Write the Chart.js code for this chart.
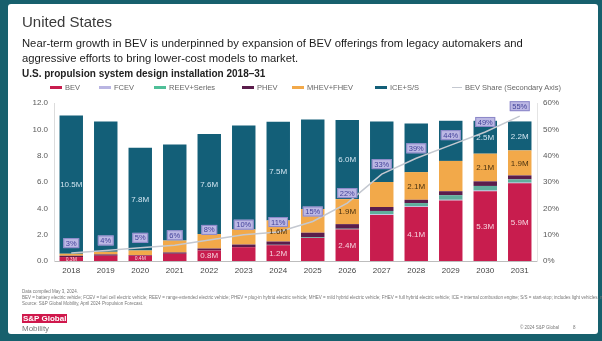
<!DOCTYPE html>
<html>
<head>
<meta charset="utf-8">
<script src="https://cdn.jsdelivr.net/npm/chart.js@4.4.1/dist/chart.umd.min.js"></script>
<style>
  html, body { margin: 0; padding: 0; }
  body {
    width: 602px; height: 341px; position: relative; overflow: hidden;
    background: #17606d;
    font-family: 'Liberation Sans', Arial, sans-serif;
  }
  #slide { position: absolute; left: 8px; top: 4px; width: 590px; height: 330px; background: #fff; border-radius: 3px; }
  #chart { position: absolute; left: 0; top: 0; }
  .t { position: absolute; white-space: nowrap; }
  .h1 { left: 22px; top: 13px; font-size: 15px; color: #3a3a3a; }
  .sub { left: 22px; top: 36px; font-size: 11.25px; line-height: 15px; color: #1c1c1c; }
  .ct { left: 22px; top: 68px; font-size: 10px; font-weight: bold; color: #222; }
  .lg { top: 83px; font-size: 7.5px; color: #666; display: flex; align-items: center; }
  .sw { display: inline-block; width: 12px; height: 3px; margin-right: 3px; }
  .fn { left: 22px; font-size: 4.5px; color: #777; }
  .logo { left: 22px; top: 314px; font-size: 8px; font-weight: bold; color: #fff; background: #d0184c; padding: 0 1px; }
  .mob { left: 22px; top: 324px; font-size: 8px; color: #777; }
  .copy { top: 325px; font-size: 4.5px; color: #777; }
</style>
</head>
<body>
<div id="slide"></div>
<canvas id="chart" width="602" height="341"></canvas>

<div class="t h1">United States</div>
<div class="t sub">Near-term growth in BEV is underpinned by expansion of BEV offerings from legacy automakers and<br>aggressive efforts to bring lower-cost models to market.</div>
<div class="t ct">U.S. propulsion system design installation 2018–31</div>

<div class="t lg" style="left:50px"><span class="sw" style="background:#c81d4e"></span>BEV</div>
<div class="t lg" style="left:99px"><span class="sw" style="background:#b9b5e2"></span>FCEV</div>
<div class="t lg" style="left:154px"><span class="sw" style="background:#4fbf98"></span>REEV+Series</div>
<div class="t lg" style="left:242px"><span class="sw" style="background:#5b1d4c"></span>PHEV</div>
<div class="t lg" style="left:292px"><span class="sw" style="background:#f2a94a"></span>MHEV+FHEV</div>
<div class="t lg" style="left:375px"><span class="sw" style="background:#135f78"></span>ICE+S/S</div>
<div class="t lg" style="left:452px"><span class="sw" style="background:#c4c8d0;height:1px;width:10px"></span>BEV Share (Secondary Axis)</div>

<div class="t fn" style="top:289px">Data compiled May 3, 2024.</div>
<div class="t fn" style="top:295px">BEV = battery electric vehicle; FCEV = fuel cell electric vehicle; REEV = range-extended electric vehicle; PHEV = plug-in hybrid electric vehicle; MHEV = mild hybrid electric vehicle; FHEV = full hybrid electric vehicle; ICE = internal combustion engine; S/S = start-stop; includes light vehicles, not yet adjusted.</div>
<div class="t fn" style="top:301px">Source: S&amp;P Global Mobility, April 2024 Propulsion Forecast.</div>

<div class="t logo">S&amp;P Global</div>
<div class="t mob">Mobility</div>
<div class="t copy" style="left:520px">© 2024 S&amp;P Global</div>
<div class="t copy" style="left:573px">8</div>

<script>
// propulsion mix, millions of units
const years = ['2018', '2019', '2020', '2021', '2022', '2023', '2024', '2025', '2026', '2027', '2028', '2029', '2030', '2031'];
const bev  = [0.3, 0.4, 0.4, 0.55, 0.8, 1.05, 1.2, 1.75, 2.4, 3.5, 4.1, 4.6, 5.3, 5.9];
const fcev = [0, 0, 0, 0, 0, 0, 0, 0, 0, 0.05, 0.05, 0.05, 0.05, 0.05];
const reev = [0, 0, 0, 0, 0, 0, 0.03, 0.05, 0.05, 0.25, 0.25, 0.35, 0.35, 0.25];
const phev = [0.1, 0.1, 0.05, 0.1, 0.15, 0.2, 0.25, 0.35, 0.35, 0.3, 0.25, 0.3, 0.35, 0.3];
const mhev = [0.15, 0.2, 0.35, 0.9, 1.1, 1.15, 1.6, 1.8, 1.9, 1.9, 2.1, 2.3, 2.1, 1.9];
const ice  = [10.5, 9.9, 7.8, 7.3, 7.6, 7.9, 7.5, 6.8, 6.0, 4.6, 3.7, 3.05, 2.5, 2.2];
// BEV share of total, %
const bevShare = [3, 4, 5, 6, 8, 10, 11, 15, 22, 33, 39, 44, 49, 55];

// years whose segments carry a value label
const bevLabelYears  = ['2018', '2020', '2022', '2024', '2026', '2028', '2030', '2031'];
const mhevLabelYears = ['2024', '2026', '2028', '2030', '2031'];
const iceLabelYears  = ['2018', '2020', '2022', '2024', '2026', '2028', '2030', '2031'];

const yTicks  = [0, 2, 4, 6, 8, 10, 12];
const y2Ticks = [0, 10, 20, 30, 40, 50, 60];

const FONT = "'Liberation Sans', Arial, sans-serif";
Chart.defaults.font.family = FONT;
Chart.defaults.font.size = 8;

function bar(label, data, color, labelYears, textColor) {
  return {
    type: 'bar', label, data,
    backgroundColor: color,
    yAxisID: 'y', stack: 's', order: 1,
    categoryPercentage: 1, barPercentage: 0.68,
    labelYears: labelYears || [], textColor: textColor || '#fff',
  };
}

// segment labels and share call-outs
const labelPlugin = {
  id: 'labels',
  afterDatasetsDraw(chart) {
    const ctx = chart.ctx;
    ctx.save();
    ctx.textAlign = 'center';
    ctx.textBaseline = 'middle';
    chart.data.datasets.forEach((ds, di) => {
      if (ds.type !== 'bar' || !ds.labelYears.length) return;
      const meta = chart.getDatasetMeta(di);
      meta.data.forEach((el, i) => {
        if (!ds.labelYears.includes(years[i])) return;
        const v = ds.data[i];
        const h = Math.abs(el.base - el.y);
        ctx.font = (h < 8 ? '5px ' : '8px ') + FONT;
        ctx.fillStyle = ds.textColor;
        ctx.fillText(v.toFixed(1) + 'M', el.x, (el.y + el.base) / 2 + 0.5);
      });
    });

    const lineMeta = chart.getDatasetMeta(chart.data.datasets.length - 1);
    ctx.font = '7.5px ' + FONT;
    lineMeta.data.forEach((pt, i) => {
      const txt = bevShare[i] + '%';
      const w = ctx.measureText(txt).width + 5;
      const x = pt.x, y = pt.y - 10;
      ctx.fillStyle = '#bcb8e4';
      ctx.strokeStyle = '#8c88c8';
      ctx.lineWidth = 1;
      ctx.fillRect(x - w / 2, y - 5, w, 10);
      ctx.strokeRect(x - w / 2 + 0.5, y - 4.5, w - 1, 9);
      ctx.fillStyle = '#43439a';
      ctx.fillText(txt, x, y + 0.5);
    });
    ctx.restore();
  }
};

new Chart(document.getElementById('chart'), {
  data: {
    labels: years,
    datasets: [
      bar('BEV', bev, '#c81d4e', bevLabelYears, '#f6d3de'),
      bar('FCEV', fcev, '#b9b5e2'),
      bar('REEV+Series', reev, '#5fae9c'),
      bar('PHEV', phev, '#5b1d4c'),
      bar('MHEV+FHEV', mhev, '#f2a94a', mhevLabelYears, '#4a3210'),
      bar('ICE+S/S', ice, '#135f78', iceLabelYears, '#d3e6f2'),
      {
        type: 'line', label: 'BEV Share (Secondary Axis)', data: bevShare,
        yAxisID: 'y2', order: 0,
        borderColor: '#c4c8d0', borderWidth: 1.5,
        pointRadius: 0, tension: 0, fill: false,
      },
    ]
  },
  options: {
    responsive: false,
    devicePixelRatio: 1,
    animation: false,
    layout: { padding: { left: 0, right: 35, top: 103, bottom: 60 } },
    plugins: { legend: { display: false }, tooltip: { enabled: false } },
    scales: {
      x: {
        stacked: true,
        grid: { display: false, drawTicks: false },
        border: { display: true, color: '#bdbdbd', width: 1 },
        ticks: { color: '#444', padding: 5, font: { size: 8 } },
        afterFit: s => { s.height = 20; },
      },
      y: {
        stacked: true, position: 'left', min: 0, max: 12,
        grid: { display: false, drawTicks: false },
        border: { display: true, color: '#dcdcdc', width: 1 },
        afterBuildTicks: s => { s.ticks = yTicks.map(v => ({ value: v })); },
        ticks: { color: '#595959', padding: 6, callback: v => v.toFixed(1) },
        afterFit: s => { s.width = 54; },
      },
      y2: {
        position: 'right', min: 0, max: 60,
        grid: { display: false, drawTicks: false },
        border: { display: true, color: '#e4e4e4', width: 1 },
        afterBuildTicks: s => { s.ticks = y2Ticks.map(v => ({ value: v })); },
        ticks: { color: '#595959', padding: 6, callback: v => v + '%' },
        afterFit: s => { s.width = 30; },
      },
    }
  },
  plugins: [labelPlugin]
});
</script>
</body>
</html>
